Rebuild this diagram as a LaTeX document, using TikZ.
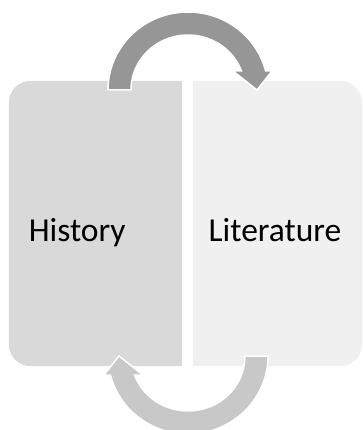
\documentclass[tikz,border=0pt]{standalone}
\usepackage{fontspec}
\setmainfont{Carlito}
\definecolor{histfill}{HTML}{D9D9D9}
\definecolor{litfill}{HTML}{F0F0F0}
\definecolor{toparrow}{HTML}{969696}
\definecolor{botarrow}{HTML}{C8C8C8}
\tikzset{
  boxarea/.style={inner sep=0pt, minimum width=173pt, minimum height=285pt},
  label/.style={font=\fontsize{33.5pt}{40pt}\selectfont, text=black, inner sep=0pt, anchor=base},
  cyclearrow/.style={draw=white, line width=1.5pt, line join=miter}
}
\begin{document}
\begin{tikzpicture}[x=1pt,y=1pt]
\useasboundingbox (0,0) rectangle (362,-430);
\clip (0,0) rectangle (362,-430);
% box areas
\node[boxarea] (hist) at (95.5,-223.5) {};
\node[boxarea, minimum width=169pt] (lit) at (277.5,-223.5) {};
\fill[histfill] (hist.north east) [rounded corners=22pt] -- (hist.north west) -- (hist.south west) [sharp corners] -- (hist.south east) -- cycle;
\fill[litfill] (lit.north west) [rounded corners=22pt] -- (lit.north east) -- (lit.south east) [sharp corners] -- (lit.south west) -- cycle;
% top arrow: History -> Literature
\filldraw[cyclearrow, fill=toparrow] (108,-90)
  arc[start angle=180, end angle=14.1, x radius=80pt, y radius=78pt]
  -- (272,-71) -- (257,-90) -- (233,-71) -- (241.5,-71)
  arc[start angle=20.2, end angle=180, x radius=57pt, y radius=55pt]
  -- cycle;
% bottom arrow: Literature -> History
\filldraw[cyclearrow, fill=botarrow] (268,-356)
  arc[start angle=0, end angle=-165.9, x radius=80pt, y radius=78pt]
  -- (104,-375) -- (119,-356) -- (143,-375) -- (134.5,-375)
  arc[start angle=-159.8, end angle=0, x radius=57pt, y radius=55pt]
  -- cycle;
% labels
\node[label] (histtext) at (77.2,-241.7) {History};
\node[label] (littext) at (275,-241.7) {Literature};
\end{tikzpicture}
\end{document}
